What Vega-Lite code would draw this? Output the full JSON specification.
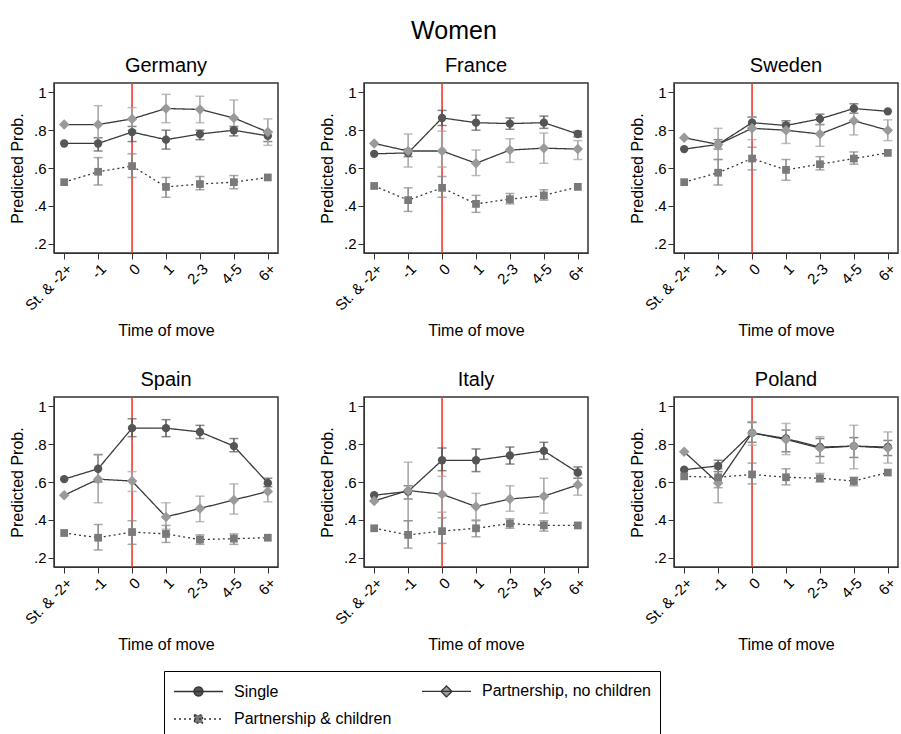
{
  "$schema": "https://vega.github.io/schema/vega-lite/v6.json",
  "padding": {"left": 8, "top": 19, "right": 0, "bottom": 0},
  "title": {"text": "Women", "fontSize": 25, "fontWeight": "normal", "font": "Liberation Sans", "color": "#000", "anchor": "middle", "offset": 11},
  "data": {"values": [
    {"country":"Germany","time":"St. & -2+","group":"Single","p":0.73},
    {"country":"Germany","time":"-1","group":"Single","p":0.73,"lo":0.69,"hi":0.76},
    {"country":"Germany","time":"0","group":"Single","p":0.79,"lo":0.74,"hi":0.82},
    {"country":"Germany","time":"1","group":"Single","p":0.75,"lo":0.70,"hi":0.80},
    {"country":"Germany","time":"2-3","group":"Single","p":0.78,"lo":0.75,"hi":0.80},
    {"country":"Germany","time":"4-5","group":"Single","p":0.80,"lo":0.77,"hi":0.82},
    {"country":"Germany","time":"6+","group":"Single","p":0.77,"lo":0.74,"hi":0.79},
    {"country":"Germany","time":"St. & -2+","group":"Partnership, no children","p":0.83},
    {"country":"Germany","time":"-1","group":"Partnership, no children","p":0.83,"lo":0.74,"hi":0.93},
    {"country":"Germany","time":"0","group":"Partnership, no children","p":0.86,"lo":0.80,"hi":0.92},
    {"country":"Germany","time":"1","group":"Partnership, no children","p":0.915,"lo":0.84,"hi":0.99},
    {"country":"Germany","time":"2-3","group":"Partnership, no children","p":0.91,"lo":0.84,"hi":0.98},
    {"country":"Germany","time":"4-5","group":"Partnership, no children","p":0.865,"lo":0.81,"hi":0.96},
    {"country":"Germany","time":"6+","group":"Partnership, no children","p":0.79,"lo":0.72,"hi":0.86},
    {"country":"Germany","time":"St. & -2+","group":"Partnership & children","p":0.525},
    {"country":"Germany","time":"-1","group":"Partnership & children","p":0.58,"lo":0.51,"hi":0.655},
    {"country":"Germany","time":"0","group":"Partnership & children","p":0.61,"lo":0.55,"hi":0.675},
    {"country":"Germany","time":"1","group":"Partnership & children","p":0.50,"lo":0.445,"hi":0.55},
    {"country":"Germany","time":"2-3","group":"Partnership & children","p":0.515,"lo":0.485,"hi":0.555},
    {"country":"Germany","time":"4-5","group":"Partnership & children","p":0.525,"lo":0.49,"hi":0.56},
    {"country":"Germany","time":"6+","group":"Partnership & children","p":0.55},

    {"country":"France","time":"St. & -2+","group":"Single","p":0.675},
    {"country":"France","time":"-1","group":"Single","p":0.68,"lo":0.66,"hi":0.70},
    {"country":"France","time":"0","group":"Single","p":0.865,"lo":0.825,"hi":0.905},
    {"country":"France","time":"1","group":"Single","p":0.84,"lo":0.80,"hi":0.88},
    {"country":"France","time":"2-3","group":"Single","p":0.835,"lo":0.805,"hi":0.865},
    {"country":"France","time":"4-5","group":"Single","p":0.84,"lo":0.81,"hi":0.875},
    {"country":"France","time":"6+","group":"Single","p":0.78,"lo":0.765,"hi":0.795},
    {"country":"France","time":"St. & -2+","group":"Partnership, no children","p":0.73},
    {"country":"France","time":"-1","group":"Partnership, no children","p":0.69,"lo":0.605,"hi":0.78},
    {"country":"France","time":"0","group":"Partnership, no children","p":0.69,"lo":0.605,"hi":0.795},
    {"country":"France","time":"1","group":"Partnership, no children","p":0.625,"lo":0.56,"hi":0.695},
    {"country":"France","time":"2-3","group":"Partnership, no children","p":0.695,"lo":0.63,"hi":0.755},
    {"country":"France","time":"4-5","group":"Partnership, no children","p":0.705,"lo":0.625,"hi":0.785},
    {"country":"France","time":"6+","group":"Partnership, no children","p":0.70,"lo":0.645,"hi":0.745},
    {"country":"France","time":"St. & -2+","group":"Partnership & children","p":0.505},
    {"country":"France","time":"-1","group":"Partnership & children","p":0.43,"lo":0.37,"hi":0.495},
    {"country":"France","time":"0","group":"Partnership & children","p":0.495,"lo":0.445,"hi":0.555},
    {"country":"France","time":"1","group":"Partnership & children","p":0.41,"lo":0.365,"hi":0.455},
    {"country":"France","time":"2-3","group":"Partnership & children","p":0.435,"lo":0.41,"hi":0.465},
    {"country":"France","time":"4-5","group":"Partnership & children","p":0.455,"lo":0.43,"hi":0.485},
    {"country":"France","time":"6+","group":"Partnership & children","p":0.50},

    {"country":"Sweden","time":"St. & -2+","group":"Single","p":0.70},
    {"country":"Sweden","time":"-1","group":"Single","p":0.725,"lo":0.70,"hi":0.75},
    {"country":"Sweden","time":"0","group":"Single","p":0.84,"lo":0.81,"hi":0.87},
    {"country":"Sweden","time":"1","group":"Single","p":0.825,"lo":0.795,"hi":0.85},
    {"country":"Sweden","time":"2-3","group":"Single","p":0.86,"lo":0.83,"hi":0.885},
    {"country":"Sweden","time":"4-5","group":"Single","p":0.915,"lo":0.89,"hi":0.94},
    {"country":"Sweden","time":"6+","group":"Single","p":0.90},
    {"country":"Sweden","time":"St. & -2+","group":"Partnership, no children","p":0.76},
    {"country":"Sweden","time":"-1","group":"Partnership, no children","p":0.725,"lo":0.645,"hi":0.81},
    {"country":"Sweden","time":"0","group":"Partnership, no children","p":0.81,"lo":0.75,"hi":0.87},
    {"country":"Sweden","time":"1","group":"Partnership, no children","p":0.80,"lo":0.73,"hi":0.84},
    {"country":"Sweden","time":"2-3","group":"Partnership, no children","p":0.78,"lo":0.715,"hi":0.83},
    {"country":"Sweden","time":"4-5","group":"Partnership, no children","p":0.85,"lo":0.775,"hi":0.915},
    {"country":"Sweden","time":"6+","group":"Partnership, no children","p":0.80,"lo":0.745,"hi":0.855},
    {"country":"Sweden","time":"St. & -2+","group":"Partnership & children","p":0.525},
    {"country":"Sweden","time":"-1","group":"Partnership & children","p":0.575,"lo":0.51,"hi":0.645},
    {"country":"Sweden","time":"0","group":"Partnership & children","p":0.65,"lo":0.59,"hi":0.71},
    {"country":"Sweden","time":"1","group":"Partnership & children","p":0.59,"lo":0.535,"hi":0.645},
    {"country":"Sweden","time":"2-3","group":"Partnership & children","p":0.62,"lo":0.59,"hi":0.66},
    {"country":"Sweden","time":"4-5","group":"Partnership & children","p":0.65,"lo":0.62,"hi":0.685},
    {"country":"Sweden","time":"6+","group":"Partnership & children","p":0.68},

    {"country":"Spain","time":"St. & -2+","group":"Single","p":0.615},
    {"country":"Spain","time":"-1","group":"Single","p":0.67,"lo":0.60,"hi":0.745},
    {"country":"Spain","time":"0","group":"Single","p":0.885,"lo":0.84,"hi":0.935},
    {"country":"Spain","time":"1","group":"Single","p":0.885,"lo":0.84,"hi":0.93},
    {"country":"Spain","time":"2-3","group":"Single","p":0.865,"lo":0.83,"hi":0.90},
    {"country":"Spain","time":"4-5","group":"Single","p":0.79,"lo":0.76,"hi":0.83},
    {"country":"Spain","time":"6+","group":"Single","p":0.595,"lo":0.575,"hi":0.62},
    {"country":"Spain","time":"St. & -2+","group":"Partnership, no children","p":0.53},
    {"country":"Spain","time":"-1","group":"Partnership, no children","p":0.615,"lo":0.49,"hi":0.745},
    {"country":"Spain","time":"0","group":"Partnership, no children","p":0.605,"lo":0.55,"hi":0.655},
    {"country":"Spain","time":"1","group":"Partnership, no children","p":0.415,"lo":0.35,"hi":0.49},
    {"country":"Spain","time":"2-3","group":"Partnership, no children","p":0.46,"lo":0.39,"hi":0.525},
    {"country":"Spain","time":"4-5","group":"Partnership, no children","p":0.505,"lo":0.43,"hi":0.59},
    {"country":"Spain","time":"6+","group":"Partnership, no children","p":0.55,"lo":0.495,"hi":0.59},
    {"country":"Spain","time":"St. & -2+","group":"Partnership & children","p":0.33},
    {"country":"Spain","time":"-1","group":"Partnership & children","p":0.305,"lo":0.24,"hi":0.375},
    {"country":"Spain","time":"0","group":"Partnership & children","p":0.335,"lo":0.27,"hi":0.395},
    {"country":"Spain","time":"1","group":"Partnership & children","p":0.325,"lo":0.28,"hi":0.37},
    {"country":"Spain","time":"2-3","group":"Partnership & children","p":0.295,"lo":0.27,"hi":0.32},
    {"country":"Spain","time":"4-5","group":"Partnership & children","p":0.30,"lo":0.27,"hi":0.325},
    {"country":"Spain","time":"6+","group":"Partnership & children","p":0.305},

    {"country":"Italy","time":"St. & -2+","group":"Single","p":0.53},
    {"country":"Italy","time":"-1","group":"Single","p":0.55,"lo":0.51,"hi":0.58},
    {"country":"Italy","time":"0","group":"Single","p":0.715,"lo":0.66,"hi":0.78},
    {"country":"Italy","time":"1","group":"Single","p":0.715,"lo":0.655,"hi":0.775},
    {"country":"Italy","time":"2-3","group":"Single","p":0.74,"lo":0.695,"hi":0.785},
    {"country":"Italy","time":"4-5","group":"Single","p":0.765,"lo":0.72,"hi":0.81},
    {"country":"Italy","time":"6+","group":"Single","p":0.65,"lo":0.62,"hi":0.68},
    {"country":"Italy","time":"St. & -2+","group":"Partnership, no children","p":0.50},
    {"country":"Italy","time":"-1","group":"Partnership, no children","p":0.555,"lo":0.395,"hi":0.705},
    {"country":"Italy","time":"0","group":"Partnership, no children","p":0.535,"lo":0.44,"hi":0.63},
    {"country":"Italy","time":"1","group":"Partnership, no children","p":0.47,"lo":0.40,"hi":0.54},
    {"country":"Italy","time":"2-3","group":"Partnership, no children","p":0.51,"lo":0.445,"hi":0.58},
    {"country":"Italy","time":"4-5","group":"Partnership, no children","p":0.525,"lo":0.435,"hi":0.62},
    {"country":"Italy","time":"6+","group":"Partnership, no children","p":0.585,"lo":0.53,"hi":0.64},
    {"country":"Italy","time":"St. & -2+","group":"Partnership & children","p":0.355},
    {"country":"Italy","time":"-1","group":"Partnership & children","p":0.32,"lo":0.25,"hi":0.395},
    {"country":"Italy","time":"0","group":"Partnership & children","p":0.34,"lo":0.275,"hi":0.41},
    {"country":"Italy","time":"1","group":"Partnership & children","p":0.355,"lo":0.31,"hi":0.395},
    {"country":"Italy","time":"2-3","group":"Partnership & children","p":0.38,"lo":0.355,"hi":0.405},
    {"country":"Italy","time":"4-5","group":"Partnership & children","p":0.37,"lo":0.34,"hi":0.395},
    {"country":"Italy","time":"6+","group":"Partnership & children","p":0.37},

    {"country":"Poland","time":"St. & -2+","group":"Single","p":0.665},
    {"country":"Poland","time":"-1","group":"Single","p":0.685,"lo":0.655,"hi":0.715},
    {"country":"Poland","time":"0","group":"Single","p":0.86,"lo":0.81,"hi":0.915},
    {"country":"Poland","time":"1","group":"Single","p":0.83,"lo":0.76,"hi":0.875},
    {"country":"Poland","time":"2-3","group":"Single","p":0.785,"lo":0.735,"hi":0.83},
    {"country":"Poland","time":"4-5","group":"Single","p":0.79,"lo":0.73,"hi":0.835},
    {"country":"Poland","time":"6+","group":"Single","p":0.785,"lo":0.74,"hi":0.82},
    {"country":"Poland","time":"St. & -2+","group":"Partnership, no children","p":0.76},
    {"country":"Poland","time":"-1","group":"Partnership, no children","p":0.595,"lo":0.49,"hi":0.70},
    {"country":"Poland","time":"0","group":"Partnership, no children","p":0.86,"lo":0.795,"hi":0.92},
    {"country":"Poland","time":"1","group":"Partnership, no children","p":0.825,"lo":0.745,"hi":0.91},
    {"country":"Poland","time":"2-3","group":"Partnership, no children","p":0.78,"lo":0.70,"hi":0.84},
    {"country":"Poland","time":"4-5","group":"Partnership, no children","p":0.79,"lo":0.67,"hi":0.90},
    {"country":"Poland","time":"6+","group":"Partnership, no children","p":0.78,"lo":0.70,"hi":0.865},
    {"country":"Poland","time":"St. & -2+","group":"Partnership & children","p":0.63},
    {"country":"Poland","time":"-1","group":"Partnership & children","p":0.625,"lo":0.57,"hi":0.67},
    {"country":"Poland","time":"0","group":"Partnership & children","p":0.64,"lo":0.59,"hi":0.70},
    {"country":"Poland","time":"1","group":"Partnership & children","p":0.625,"lo":0.585,"hi":0.67},
    {"country":"Poland","time":"2-3","group":"Partnership & children","p":0.62,"lo":0.60,"hi":0.645},
    {"country":"Poland","time":"4-5","group":"Partnership & children","p":0.605,"lo":0.58,"hi":0.625},
    {"country":"Poland","time":"6+","group":"Partnership & children","p":0.65}
  ]},
  "facet": {
    "field": "country", "type": "nominal",
    "sort": ["Germany", "France", "Sweden", "Spain", "Italy", "Poland"],
    "title": null,
    "header": {"labelFontSize": 20, "labelFont": "Liberation Sans", "labelColor": "#000", "labelPadding": 6}
  },
  "columns": 3,
  "spacing": {"row": 30, "column": 38},
  "resolve": {"axis": {"x": "independent", "y": "independent"}},
  "spec": {
    "width": 224,
    "height": 170,
    "encoding": {
      "x": {"field": "time", "type": "ordinal", "sort": ["St. & -2+", "-1", "0", "1", "2-3", "4-5", "6+"], "scale": {"type": "point", "padding": 0.3}, "title": "Time of move"}
    },
    "layer": [
      {
        "transform": [{"filter": "datum.time === '0' && datum.group === 'Single'"}],
        "mark": {"type": "rule", "color": "#ee3b2f", "strokeWidth": 1.6}
      },
      {
        "mark": {"type": "line", "color": "#3a3a3a", "strokeWidth": 1.3},
        "encoding": {
          "y": {"field": "p", "type": "quantitative", "title": "Predicted Prob.", "scale": {"domain": [0.15, 1.05], "nice": false, "zero": false}},
          "strokeDash": {
            "field": "group", "type": "nominal",
            "scale": {"domain": ["Single", "Partnership, no children", "Partnership & children"], "range": [[1, 0], [1, 0], [2, 3]]},
            "legend": {
              "title": null,
              "orient": "none", "legendX": 110, "legendY": 588, "direction": "horizontal",
              "columns": 2, "columnPadding": 27, "rowPadding": 8,
              "strokeColor": "#000", "padding": 9,
              "labelFontSize": 16, "labelFont": "Liberation Sans", "labelColor": "#000", "labelLimit": 300, "labelOffset": 39,
              "symbolSize": 400, "symbolStrokeWidth": 1.3, "symbolStrokeColor": "#333",
              "encode": {
                "symbols": {
                  "update": {
                    "shape": {"signal": "datum.value === 'Single' ? 'M-1,0H3.9M1.9,0A0.45,0.45,0,1,1,1.0,0A0.45,0.45,0,1,1,1.9,0Z' : datum.value === 'Partnership, no children' ? 'M-1,0H3.9M1.45,-0.55L2.0,0L1.45,0.55L0.9,0Z' : 'M-1,0H3.9M1.05,-0.4H1.85V0.4H1.05Z'"},
                    "fill": {"signal": "datum.value === 'Single' ? '#555555' : datum.value === 'Partnership, no children' ? '#9a9a9a' : '#7a7a7a'"},
                    "fillOpacity": {"value": 1},
                    "size": {"value": 400},
                    "stroke": {"value": "#333333"},
                    "strokeWidth": {"value": 1.3}
                  }
                }
              }
            }
          }
        }
      },
      {
        "transform": [{"filter": "datum.lo != null && datum.group === 'Single'"}],
        "mark": {"type": "errorbar", "ticks": {"size": 9}, "thickness": 1.5, "color": "#555555"},
        "encoding": {"y": {"field": "lo", "type": "quantitative", "title": "Predicted Prob."}, "y2": {"field": "hi"}}
      },
      {
        "transform": [{"filter": "datum.lo != null && datum.group === 'Partnership, no children'"}],
        "mark": {"type": "errorbar", "ticks": {"size": 9}, "thickness": 1.5, "color": "#a3a3a3"},
        "encoding": {"y": {"field": "lo", "type": "quantitative", "title": "Predicted Prob."}, "y2": {"field": "hi"}}
      },
      {
        "transform": [{"filter": "datum.lo != null && datum.group === 'Partnership & children'"}],
        "mark": {"type": "errorbar", "ticks": {"size": 9}, "thickness": 1.5, "color": "#858585"},
        "encoding": {"y": {"field": "lo", "type": "quantitative", "title": "Predicted Prob."}, "y2": {"field": "hi"}}
      },
      {
        "transform": [{"filter": "datum.group === 'Single'"}],
        "mark": {"type": "point", "filled": true, "opacity": 1, "shape": "circle", "size": 70, "color": "#555555"},
        "encoding": {"y": {"field": "p", "type": "quantitative", "title": "Predicted Prob."}}
      },
      {
        "transform": [{"filter": "datum.group === 'Partnership, no children'"}],
        "mark": {"type": "point", "filled": true, "opacity": 1, "shape": "diamond", "size": 110, "color": "#9a9a9a"},
        "encoding": {"y": {"field": "p", "type": "quantitative", "title": "Predicted Prob."}}
      },
      {
        "transform": [{"filter": "datum.group === 'Partnership & children'"}],
        "mark": {"type": "point", "filled": true, "opacity": 1, "shape": "square", "size": 60, "color": "#7a7a7a"},
        "encoding": {"y": {"field": "p", "type": "quantitative", "title": "Predicted Prob."}}
      }
    ]
  },
  "config": {
    "font": "Liberation Sans",
    "view": {"stroke": "#333333", "strokeWidth": 1.5},
    "axis": {
      "grid": false, "labelFontSize": 15, "titleFontSize": 16, "titleFontWeight": "normal",
      "labelColor": "#000", "titleColor": "#000", "domainColor": "#333333", "tickColor": "#333333", "tickSize": 6
    },
    "axisX": {"labelAngle": -45, "titlePadding": 9},
    "axisY": {"values": [0.2, 0.4, 0.6, 0.8, 1], "labelExpr": "datum.value == 1 ? '1' : replace(format(datum.value, '.1f'), '0.', '.')", "titlePadding": 8}
  }
}
